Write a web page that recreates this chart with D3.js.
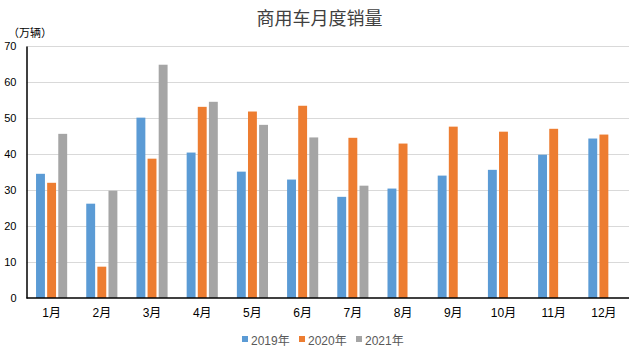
<!DOCTYPE html>
<html>
<head>
<meta charset="utf-8">
<title>商用车月度销量</title>
<script src="https://d3js.org/d3.v7.min.js"></script>
<style>
  body { margin: 0; background: #fff; }
  text { font-family: "Liberation Sans", "Noto Sans CJK SC", sans-serif; }
</style>
</head>
<body>
<div id="chart"></div>
<script>

  // data
  var months = ['1月','2月','3月','4月','5月','6月','7月','8月','9月','10月','11月','12月'];
  var seriesNames = ['2019年','2020年','2021年'];
  var sales2019 = [34.5, 26.2, 50.1, 40.4, 35.1, 32.9, 28.1, 30.4, 34.0, 35.6, 39.8, 44.3];
  var sales2020 = [32.0, 8.7, 38.7, 53.1, 51.8, 53.4, 44.5, 42.9, 47.6, 46.2, 47.0, 45.4];
  var sales2021 = [45.6, 29.8, 64.8, 54.5, 48.1, 44.6, 31.2, null, null, null, null, null];
  var yTicks = [0, 10, 20, 30, 40, 50, 60, 70];
  var colors = ['#5b9bd5', '#ed7d31', '#a5a5a5'];

  var width = 639;
  var height = 358;
  var margin = {top: 46, right: 10, bottom: 60, left: 26.5};

  var table = months.map(function(m, i){
    return {month: m, values: [sales2019[i], sales2020[i], sales2021[i]]};
  });

  var svg = d3.select('#chart')
    .append('svg')
    .attr('width', width)
    .attr('height', height);

  var x0 = d3.scaleBand()
    .domain(months)
    .range([margin.left, width - margin.right])
    .paddingInner(0.38)
    .paddingOuter(0.19);

  var x1 = d3.scaleBand()
    .domain(d3.range(seriesNames.length))
    .range([0, x0.bandwidth()])
    .paddingInner(0.2);

  var y = d3.scaleLinear()
    .domain([0, 70])
    .range([height - margin.bottom, margin.top]);

  // gridlines
  svg.append('g')
    .selectAll('line')
    .data(yTicks.slice(1))
    .enter()
    .append('line')
    .attr('x1', margin.left)
    .attr('x2', width - margin.right)
    .attr('y1', function(d){ return Math.round(y(d)) + 0.5; })
    .attr('y2', function(d){ return Math.round(y(d)) + 0.5; })
    .attr('stroke', '#d9d9d9')
    .attr('stroke-width', 1);

  // bars
  var groups = svg.append('g')
    .selectAll('g')
    .data(table)
    .enter()
    .append('g')
    .attr('transform', function(d){ return 'translate(' + x0(d.month) + ',0)'; });

  groups.selectAll('rect')
    .data(function(d){ return d.values.map(function(v, k){ return {k: k, v: v}; }).filter(function(e){ return e.v != null; }); })
    .enter()
    .append('rect')
    .attr('x', function(d){ return x1(d.k); })
    .attr('width', x1.bandwidth())
    .attr('y', function(d){ return y(d.v); })
    .attr('height', function(d){ return y(0) - y(d.v); })
    .attr('fill', function(d){ return colors[d.k]; });

  // y axis
  var yAxis = svg.append('g')
    .attr('transform', 'translate(' + margin.left + ',0)')
    .call(d3.axisLeft(y).tickValues(yTicks).tickSize(0).tickPadding(10));
  yAxis.select('.domain').attr('stroke', '#000').attr('stroke-width', 1.5);
  yAxis.selectAll('text').attr('font-size', 11).attr('fill', '#000');

  // x axis
  var xAxis = svg.append('g')
    .attr('transform', 'translate(0,' + y(0) + ')')
    .call(d3.axisBottom(x0).tickSize(0).tickPadding(10).tickSizeOuter(0));
  xAxis.select('.domain')
    .attr('d', 'M' + margin.left + ',0H' + (width - margin.right))
    .attr('stroke', '#000').attr('stroke-width', 1.5);
  xAxis.selectAll('text').attr('font-size', 12).attr('fill', '#000')
    .attr('font-family', '"Noto Sans CJK SC", sans-serif');

  // title
  svg.append('text')
    .attr('x', width / 2)
    .attr('y', 25)
    .attr('text-anchor', 'middle')
    .attr('font-size', 18)
    .attr('font-family', '"Noto Sans CJK SC", sans-serif')
    .attr('fill', '#404040')
    .text('商用车月度销量');

  // unit label
  svg.append('text')
    .attr('x', 8)
    .attr('y', 37)
    .attr('font-size', 11)
    .attr('font-family', '"Noto Sans CJK SC", sans-serif')
    .attr('fill', '#000')
    .text('（万辆）');

  // legend
  var legendX = [242, 299, 356];
  var legend = svg.append('g')
    .selectAll('g')
    .data(seriesNames)
    .enter()
    .append('g')
    .attr('transform', function(d, i){ return 'translate(' + legendX[i] + ',336)'; });

  legend.append('rect')
    .attr('width', 6)
    .attr('height', 6)
    .attr('fill', function(d, i){ return colors[i]; });

  legend.append('text')
    .attr('x', 9)
    .attr('y', 9)
    .attr('font-size', 12)
    .attr('font-family', '"Noto Sans CJK SC", sans-serif')
    .attr('fill', '#595959')
    .text(function(d){ return d; });

</script>
</body>
</html>
